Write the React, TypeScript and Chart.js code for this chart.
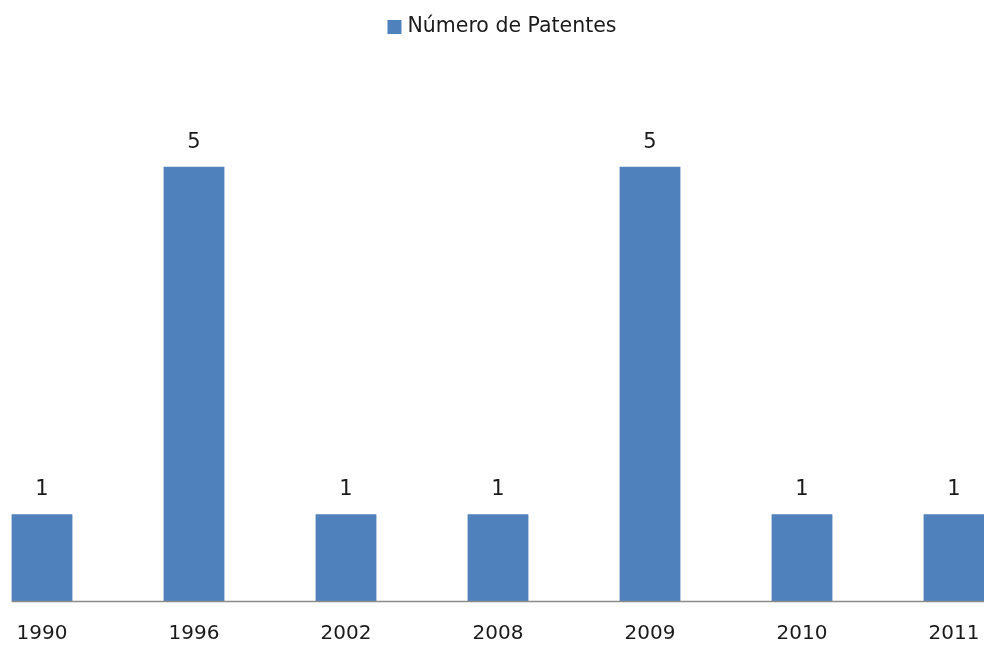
import React, { useEffect, useRef } from "react";
import { Chart, registerables } from "chart.js";

Chart.register(...registerables);

// Patent counts per year
const years = ["1990", "1996", "2002", "2008", "2009", "2010", "2011"];
const patentCounts = [1, 5, 1, 1, 5, 1, 1];
const seriesLabel = "Número de Patentes";
const yMax = 6;

const BAR_COLOR = "#4F81BD";
const TEXT_COLOR = "#1a1a1a";
const FONT_FAMILY = "'DejaVu Sans', sans-serif";

// Legend, value labels above bars and a baseline that starts at the first bar
const decorations = {
  id: "decorations",
  afterDatasetsDraw(chart: Chart) {
    const { ctx, chartArea } = chart;
    const meta = chart.getDatasetMeta(0);
    const ds = chart.data.datasets[0];
    ctx.save();

    // baseline
    const first: any = meta.data[0];
    const startX = first.x - first.width / 2;
    ctx.strokeStyle = "#8a8a8a";
    ctx.lineWidth = 1.5;
    ctx.beginPath();
    ctx.moveTo(startX, chartArea.bottom + 0.5);
    ctx.lineTo(chartArea.right, chartArea.bottom + 0.5);
    ctx.stroke();

    // value labels
    ctx.fillStyle = TEXT_COLOR;
    ctx.font = `21px ${FONT_FAMILY}`;
    ctx.textAlign = "center";
    ctx.textBaseline = "alphabetic";
    meta.data.forEach((bar: any, i: number) => {
      ctx.fillText(String(ds.data[i]), bar.x, bar.y - 19);
    });

    // legend
    ctx.font = `20.5px ${FONT_FAMILY}`;
    const label = String(ds.label);
    const textW = ctx.measureText(label).width;
    const box = 14;
    const gap = 6;
    const total = box + gap + textW;
    const cx = 536; // canvas x that lands on the page centre of the legend
    const lx = cx - total / 2;
    const ly = 27;
    ctx.fillStyle = BAR_COLOR;
    ctx.fillRect(lx, ly - box / 2, box, box);
    ctx.fillStyle = TEXT_COLOR;
    ctx.textAlign = "left";
    ctx.textBaseline = "middle";
    ctx.fillText(label, lx + box + gap, ly);
    ctx.restore();
  },
};

export default function App() {
  const canvasRef = useRef<HTMLCanvasElement | null>(null);

  useEffect(() => {
    if (!canvasRef.current) return;
    const chart = new Chart(canvasRef.current, {
      type: "bar",
      data: {
        labels: years,
        datasets: [
          {
            label: seriesLabel,
            data: patentCounts,
            backgroundColor: BAR_COLOR,
            borderWidth: 0,
            categoryPercentage: 1,
            barPercentage: 0.4,
          },
        ],
      },
      options: {
        animation: false,
        responsive: false,
        maintainAspectRatio: false,
        layout: { padding: { top: 80, bottom: 0, left: 0, right: 0 } },
        plugins: {
          legend: { display: false },
          tooltip: { enabled: false },
        },
        scales: {
          x: {
            grid: { display: false },
            border: { display: false },
            ticks: {
              color: TEXT_COLOR,
              font: { family: FONT_FAMILY, size: 20 },
              padding: 13,
              maxRotation: 0,
            },
            afterFit: (scale: any) => {
              scale.height = 44;
            },
          },
          y: {
            display: false,
            min: 0,
            max: yMax,
          },
        },
      },
      plugins: [decorations],
    });
    return () => chart.destroy();
  }, []);

  return (
    <div
      style={{
        position: "fixed",
        left: 0,
        top: 0,
        width: 984,
        height: 645,
        overflow: "hidden",
        background: "#fff",
      }}
    >
      <canvas
        ref={canvasRef}
        width={1064}
        height={645}
        style={{ position: "absolute", left: -34, top: 0, width: 1064, height: 645 }}
      />
    </div>
  );
}
